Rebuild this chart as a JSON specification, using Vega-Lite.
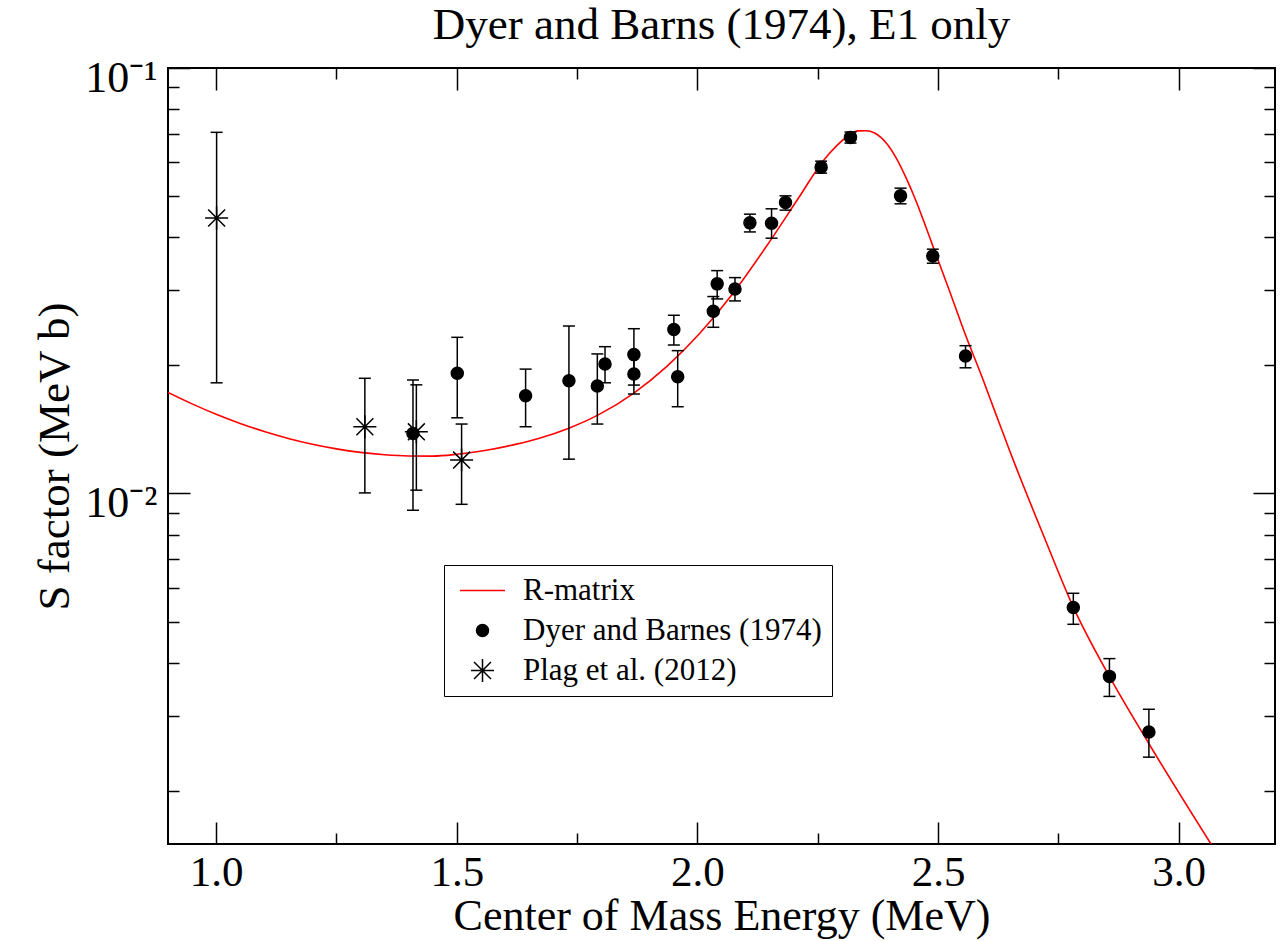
{
  "$schema": "https://vega.github.io/schema/vega-lite/v6.json",
  "width": 1107,
  "height": 776,
  "autosize": {"type": "none"},
  "padding": {"left": 168, "top": 68, "right": 5, "bottom": 97},
  "background": "white",
  "title": {"text": "Dyer and Barns (1974), E1 only", "fontSize": 45, "font": "Liberation Serif", "fontWeight": "normal", "color": "black", "anchor": "middle", "frame": "group", "baseline": "alphabetic", "offset": -28},
  "config": {
    "font": "Liberation Serif",
    "view": {"stroke": "black", "strokeWidth": 2},
    "axis": {"grid": false, "domain": false, "tickColor": "black", "tickWidth": 1.5, "labelColor": "black", "titleColor": "black", "labelFont": "Liberation Serif", "titleFont": "Liberation Serif", "titleFontWeight": "normal", "labelOverlap": false, "labelFlush": false}
  },
  "datasets": {
    "curve": [
      {"E": 0.9, "S": 0.01728, "series": "R-matrix"},
      {"E": 0.95, "S": 0.01624, "series": "R-matrix"},
      {"E": 1.0, "S": 0.01535, "series": "R-matrix"},
      {"E": 1.05, "S": 0.01461, "series": "R-matrix"},
      {"E": 1.1, "S": 0.01398, "series": "R-matrix"},
      {"E": 1.15, "S": 0.01347, "series": "R-matrix"},
      {"E": 1.2, "S": 0.01305, "series": "R-matrix"},
      {"E": 1.25, "S": 0.01273, "series": "R-matrix"},
      {"E": 1.3, "S": 0.01249, "series": "R-matrix"},
      {"E": 1.35, "S": 0.01233, "series": "R-matrix"},
      {"E": 1.4, "S": 0.01225, "series": "R-matrix"},
      {"E": 1.45, "S": 0.01224, "series": "R-matrix"},
      {"E": 1.5, "S": 0.01236, "series": "R-matrix"},
      {"E": 1.555, "S": 0.0126, "series": "R-matrix"},
      {"E": 1.624, "S": 0.01306, "series": "R-matrix"},
      {"E": 1.67, "S": 0.01347, "series": "R-matrix"},
      {"E": 1.733, "S": 0.01424, "series": "R-matrix"},
      {"E": 1.794, "S": 0.0153, "series": "R-matrix"},
      {"E": 1.868, "S": 0.01722, "series": "R-matrix"},
      {"E": 1.936, "S": 0.01986, "series": "R-matrix"},
      {"E": 2.005, "S": 0.02379, "series": "R-matrix"},
      {"E": 2.074, "S": 0.02955, "series": "R-matrix"},
      {"E": 2.143, "S": 0.03805, "series": "R-matrix"},
      {"E": 2.212, "S": 0.04987, "series": "R-matrix"},
      {"E": 2.2607, "S": 0.06039, "series": "R-matrix"},
      {"E": 2.2885, "S": 0.06553, "series": "R-matrix"},
      {"E": 2.3161, "S": 0.06957, "series": "R-matrix"},
      {"E": 2.3333, "S": 0.07114, "series": "R-matrix"},
      {"E": 2.3508, "S": 0.07119, "series": "R-matrix"},
      {"E": 2.368, "S": 0.07032, "series": "R-matrix"},
      {"E": 2.3923, "S": 0.06662, "series": "R-matrix"},
      {"E": 2.4131, "S": 0.0614, "series": "R-matrix"},
      {"E": 2.4338, "S": 0.0551, "series": "R-matrix"},
      {"E": 2.4546, "S": 0.04856, "series": "R-matrix"},
      {"E": 2.4718, "S": 0.04315, "series": "R-matrix"},
      {"E": 2.489, "S": 0.03819, "series": "R-matrix"},
      {"E": 2.523, "S": 0.03009, "series": "R-matrix"},
      {"E": 2.557, "S": 0.02357, "series": "R-matrix"},
      {"E": 2.5937, "S": 0.01848, "series": "R-matrix"},
      {"E": 2.6068, "S": 0.01685, "series": "R-matrix"},
      {"E": 2.6276, "S": 0.01459, "series": "R-matrix"},
      {"E": 2.6483, "S": 0.01264, "series": "R-matrix"},
      {"E": 2.6627, "S": 0.01147, "series": "R-matrix"},
      {"E": 2.722, "S": 0.007818, "series": "R-matrix"},
      {"E": 2.7814, "S": 0.005392, "series": "R-matrix"},
      {"E": 2.8559, "S": 0.003716, "series": "R-matrix"},
      {"E": 2.9381, "S": 0.002581, "series": "R-matrix"},
      {"E": 3.0678, "S": 0.001495, "series": "R-matrix"}
    ],
    "pts": [
      {"E": 1.409, "S": 0.01384, "lo": 0.00913, "hi": 0.01848, "series": "Dyer and Barnes (1974)"},
      {"E": 1.501, "S": 0.01916, "lo": 0.01506, "hi": 0.02328, "series": "Dyer and Barnes (1974)"},
      {"E": 1.643, "S": 0.01697, "lo": 0.01435, "hi": 0.0196, "series": "Dyer and Barnes (1974)"},
      {"E": 1.733, "S": 0.01841, "lo": 0.01204, "hi": 0.02475, "series": "Dyer and Barnes (1974)"},
      {"E": 1.792, "S": 0.01789, "lo": 0.01456, "hi": 0.02128, "series": "Dyer and Barnes (1974)"},
      {"E": 1.808, "S": 0.02014, "lo": 0.0182, "hi": 0.02213, "series": "Dyer and Barnes (1974)"},
      {"E": 1.868, "S": 0.0212, "lo": 0.01798, "hi": 0.02439, "series": "Dyer and Barnes (1974)"},
      {"E": 1.868, "S": 0.01909, "lo": 0.01713, "hi": 0.02128, "series": "Dyer and Barnes (1974)"},
      {"E": 1.951, "S": 0.0243, "lo": 0.02233, "hi": 0.02623, "series": "Dyer and Barnes (1974)"},
      {"E": 1.959, "S": 0.01881, "lo": 0.01599, "hi": 0.02166, "series": "Dyer and Barnes (1974)"},
      {"E": 2.033, "S": 0.0268, "lo": 0.02458, "hi": 0.02903, "series": "Dyer and Barnes (1974)"},
      {"E": 2.041, "S": 0.03109, "lo": 0.02866, "hi": 0.0334, "series": "Dyer and Barnes (1974)"},
      {"E": 2.078, "S": 0.03025, "lo": 0.02835, "hi": 0.03216, "series": "Dyer and Barnes (1974)"},
      {"E": 2.109, "S": 0.04325, "lo": 0.04118, "hi": 0.04534, "series": "Dyer and Barnes (1974)"},
      {"E": 2.154, "S": 0.04318, "lo": 0.03981, "hi": 0.04667, "series": "Dyer and Barnes (1974)"},
      {"E": 2.183, "S": 0.0483, "lo": 0.04634, "hi": 0.05006, "series": "Dyer and Barnes (1974)"},
      {"E": 2.257, "S": 0.05848, "lo": 0.05661, "hi": 0.0604, "series": "Dyer and Barnes (1974)"},
      {"E": 2.318, "S": 0.06869, "lo": 0.06662, "hi": 0.07072, "series": "Dyer and Barnes (1974)"},
      {"E": 2.422, "S": 0.05006, "lo": 0.04795, "hi": 0.05219, "series": "Dyer and Barnes (1974)"},
      {"E": 2.489, "S": 0.03617, "lo": 0.03477, "hi": 0.03751, "series": "Dyer and Barnes (1974)"},
      {"E": 2.557, "S": 0.02104, "lo": 0.01974, "hi": 0.02225, "series": "Dyer and Barnes (1974)"},
      {"E": 2.781, "S": 0.005393, "lo": 0.004926, "hi": 0.005826, "series": "Dyer and Barnes (1974)"},
      {"E": 2.856, "S": 0.003716, "lo": 0.003334, "hi": 0.004091, "series": "Dyer and Barnes (1974)"},
      {"E": 2.938, "S": 0.002749, "lo": 0.0024, "hi": 0.00311, "series": "Dyer and Barnes (1974)"},
      {"E": 1.001, "S": 0.0444, "lo": 0.0182, "hi": 0.0706, "series": "Plag et al. (2012)"},
      {"E": 1.309, "S": 0.01435, "lo": 0.01003, "hi": 0.01865, "series": "Plag et al. (2012)"},
      {"E": 1.416, "S": 0.01396, "lo": 0.01018, "hi": 0.018, "series": "Plag et al. (2012)"},
      {"E": 1.51, "S": 0.01198, "lo": 0.00943, "hi": 0.01456, "series": "Plag et al. (2012)"}
    ]
  },
  "resolve": {"axis": {"x": "independent", "y": "independent"}},
  "layer": [
    {
      "data": {"name": "curve"},
      "mark": {"type": "line", "strokeWidth": 1.6, "clip": true, "interpolate": "monotone"},
      "encoding": {
        "x": {"field": "E", "type": "quantitative", "scale": {"type": "linear", "domain": [0.9, 3.2], "nice": false, "zero": false},
              "axis": {"orient": "bottom", "title": "Center of Mass Energy (MeV)", "values": [1, 1.5, 2, 2.5, 3], "format": ".1f", "ticks": false, "labelFontSize": 43, "labelPadding": 7, "titleFontSize": 44, "titlePadding": 0}},
        "y": {"field": "S", "type": "quantitative", "scale": {"type": "log", "domain": [0.0015, 0.1], "nice": false},
              "axis": {"orient": "left", "title": "S factor (MeV b)", "values": [0.01, 0.1], "labelExpr": "datum.value > 0.05 ? '10⁻¹' : '10⁻²'", "ticks": false, "labelFontSize": 44, "labelPadding": 11, "labelOffset": 10, "titleFontSize": 45, "titlePadding": 7}},
        "color": {"field": "series", "type": "nominal",
                  "scale": {"domain": ["R-matrix", "Dyer and Barnes (1974)", "Plag et al. (2012)"], "range": ["#ff0000", "#000000", "#000000"]},
                  "legend": {"orient": "none", "legendX": 276, "legendY": 497, "title": null, "strokeColor": "black", "fillColor": "white", "padding": 10, "rowPadding": 8, "symbolOffset": 13, "labelOffset": 25, "labelFontSize": 31, "labelFont": "Liberation Serif", "labelColor": "black", "labelLimit": 0, "symbolSize": 144, "symbolStrokeWidth": 1.5}}
      }
    },
    {
      "data": {"name": "pts"},
      "mark": {"type": "rule", "color": "black", "strokeWidth": 1.5},
      "encoding": {
        "x": {"field": "E", "type": "quantitative", "scale": {"type": "linear", "domain": [0.9, 3.2], "nice": false, "zero": false},
              "axis": {"orient": "bottom", "title": null, "values": [1, 1.5, 2, 2.5, 3], "labels": false, "tickSize": -22}},
        "y": {"field": "lo", "type": "quantitative", "scale": {"type": "log", "domain": [0.0015, 0.1], "nice": false},
              "axis": {"orient": "left", "title": null, "values": [0.01, 0.1], "labels": false, "tickSize": -22}},
        "y2": {"field": "hi"}
      }
    },
    {
      "data": {"name": "pts"},
      "mark": {"type": "tick", "orient": "horizontal", "size": 12, "thickness": 1.5, "color": "black", "opacity": 1},
      "encoding": {
        "x": {"field": "E", "type": "quantitative", "scale": {"type": "linear", "domain": [0.9, 3.2], "nice": false, "zero": false},
              "axis": {"orient": "bottom", "title": null, "values": [1.25, 1.75, 2.25, 2.75], "labels": false, "tickSize": -11}},
        "y": {"field": "lo", "type": "quantitative", "scale": {"type": "log", "domain": [0.0015, 0.1], "nice": false},
              "axis": {"orient": "left", "title": null, "values": [0.002, 0.003, 0.004, 0.005, 0.006, 0.007, 0.008, 0.009, 0.02, 0.03, 0.04, 0.05, 0.06, 0.07, 0.08, 0.09], "labels": false, "tickSize": -11}}
      }
    },
    {
      "data": {"name": "pts"},
      "mark": {"type": "tick", "orient": "horizontal", "size": 12, "thickness": 1.5, "color": "black", "opacity": 1},
      "encoding": {
        "x": {"field": "E", "type": "quantitative", "scale": {"type": "linear", "domain": [0.9, 3.2], "nice": false, "zero": false},
              "axis": {"orient": "top", "title": null, "values": [1, 1.5, 2, 2.5, 3], "labels": false, "tickSize": -22}},
        "y": {"field": "hi", "type": "quantitative", "scale": {"type": "log", "domain": [0.0015, 0.1], "nice": false},
              "axis": {"orient": "right", "title": null, "values": [0.01, 0.1], "labels": false, "tickSize": -22}}
      }
    },
    {
      "data": {"name": "pts"},
      "mark": {"type": "point", "filled": true, "size": 144, "stroke": "black", "strokeWidth": 1.5, "opacity": 1},
      "encoding": {
        "x": {"field": "E", "type": "quantitative", "scale": {"type": "linear", "domain": [0.9, 3.2], "nice": false, "zero": false},
              "axis": {"orient": "top", "title": null, "values": [1.25, 1.75, 2.25, 2.75], "labels": false, "tickSize": -11}},
        "y": {"field": "S", "type": "quantitative", "scale": {"type": "log", "domain": [0.0015, 0.1], "nice": false},
              "axis": {"orient": "right", "title": null, "values": [0.002, 0.003, 0.004, 0.005, 0.006, 0.007, 0.008, 0.009, 0.02, 0.03, 0.04, 0.05, 0.06, 0.07, 0.08, 0.09], "labels": false, "tickSize": -11}},
        "color": {"field": "series", "type": "nominal",
                  "scale": {"domain": ["R-matrix", "Dyer and Barnes (1974)", "Plag et al. (2012)"], "range": ["#ff0000", "#000000", "#000000"]},
                  "legend": {"orient": "none", "legendX": 276, "legendY": 497, "title": null, "strokeColor": "black", "fillColor": "white", "padding": 10, "rowPadding": 8, "symbolOffset": 13, "labelOffset": 25, "labelFontSize": 31, "labelFont": "Liberation Serif", "labelColor": "black", "labelLimit": 0, "symbolSize": 144, "symbolStrokeWidth": 1.5}},
        "shape": {"field": "series", "type": "nominal",
                  "scale": {"domain": ["R-matrix", "Dyer and Barnes (1974)", "Plag et al. (2012)"], "range": ["M-3.75,0L3.75,0", "circle", "M-1.92,0L1.92,0M0,-1.92L0,1.92M-1.41,-1.41L1.41,1.41M-1.41,1.41L1.41,-1.41"]},
                  "legend": {"orient": "none", "legendX": 276, "legendY": 497, "title": null, "strokeColor": "black", "fillColor": "white", "padding": 10, "rowPadding": 8, "symbolOffset": 13, "labelOffset": 25, "labelFontSize": 31, "labelFont": "Liberation Serif", "labelColor": "black", "labelLimit": 0, "symbolSize": 144, "symbolStrokeWidth": 1.5}}
      }
    }
  ]
}
